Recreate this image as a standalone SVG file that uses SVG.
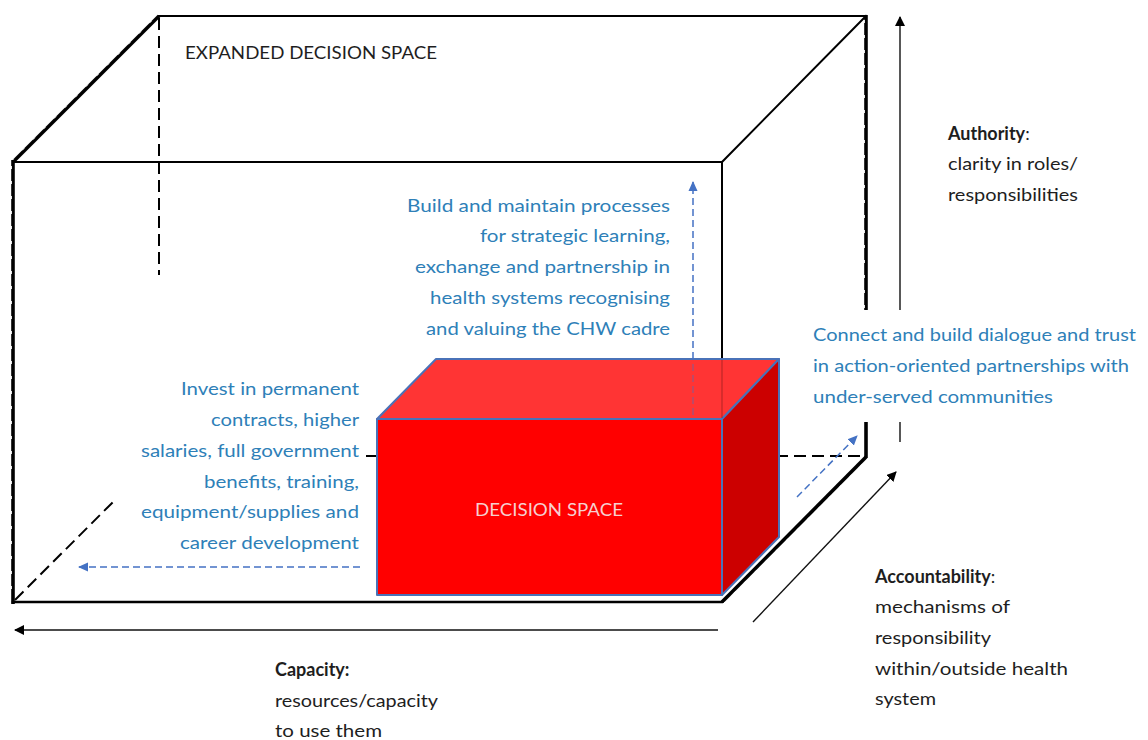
<svg xmlns="http://www.w3.org/2000/svg" width="1148" height="740" viewBox="0 0 1148 740">
<style>
  .edge { stroke: #000; stroke-width: 2; fill: none; stroke-linecap: square; }
  .thick { stroke: #000; stroke-width: 3.6; fill: none; }
  .notch { stroke: #fff; stroke-width: 1; fill: none; stroke-dasharray: 3 12; }
  .bdash { stroke: #000; stroke-width: 2; fill: none; stroke-dasharray: 12 6; }
  .axis { stroke: #111; stroke-width: 1.4; fill: none; }
  .blue { stroke: #4472C4; stroke-width: 1.5; fill: none; stroke-dasharray: 7 4; }
  .redline { stroke: #4A72B8; stroke-width: 2; stroke-linejoin: round; }
  .bt { font-family: Lato, "Open Sans", "Liberation Sans", sans-serif; font-size: 18px; fill: #2E80B8; }
  .lab { font-family: Lato, "Open Sans", "Liberation Sans", sans-serif; font-size: 18px; fill: #1e1e1e; }
  .b { font-weight: bold; }
</style>
<defs>
  <marker id="ah" viewBox="0 0 10 10" refX="9" refY="5" markerWidth="10" markerHeight="10" markerUnits="userSpaceOnUse" orient="auto">
    <path d="M0,0 L10,5 L0,10 Z" fill="#000"/>
  </marker>
  <marker id="bh" viewBox="0 0 10 10" refX="9" refY="5" markerWidth="10" markerHeight="10" markerUnits="userSpaceOnUse" orient="auto">
    <path d="M0,0.5 L10,5 L0,9.5 Z" fill="#4472C4"/>
  </marker>
</defs>

<g id="expanded-space">
  <line class="edge" x1="159" y1="16" x2="866" y2="16"/>
  <line class="edge" x1="13" y1="162" x2="722" y2="162"/>
  <line class="edge" x1="722" y1="162" x2="866" y2="16"/>
  <line class="edge" x1="722" y1="162" x2="722" y2="360"/>
  <line class="edge" x1="13" y1="602" x2="722" y2="602" style="stroke-width:2.6"/>
  <line class="thick" x1="13" y1="162" x2="159" y2="16"/>
  <line class="notch" x1="11.5" y1="161" x2="157.5" y2="15"/>
  <line class="thick" x1="13" y1="160" x2="13" y2="604"/>
  <line class="notch" x1="11.4" y1="166" x2="11.4" y2="600"/>
  <line class="thick" x1="722" y1="602" x2="866" y2="457"/>
  <line class="notch" x1="723" y1="604" x2="867.5" y2="459"/>
  <line class="thick" x1="866" y1="15" x2="866" y2="310"/>
  <line class="thick" x1="866" y1="422" x2="866" y2="458"/>
  <line class="notch" x1="864.4" y1="20" x2="864.4" y2="308"/>
  <line class="bdash" x1="159" y1="18" x2="159" y2="275"/>
  <line class="bdash" x1="15" y1="600" x2="114" y2="501"/>
  <line class="bdash" x1="366" y1="456" x2="377" y2="456"/>
  <line class="bdash" x1="780" y1="456" x2="864" y2="456" style="stroke-dashoffset:4"/>
  <text class="lab" x="185" y="59" font-size="17" textLength="252" lengthAdjust="spacingAndGlyphs">EXPANDED DECISION SPACE</text>
</g>

<g id="decision-space">
  <rect x="377" y="419" width="345" height="176" fill="#FF0000" class="redline"/>
  <polygon points="377,419 436,359 779,359 722,419" fill="#FF3434" class="redline"/>
  <polygon points="722,419 779,359 779,537 722,595" fill="#CC0000" class="redline"/>
  <line x1="722" y1="360" x2="722" y2="418" stroke="#000" stroke-width="1.2" opacity="0.25"/>
  <text x="475" y="516" font-family="Lato, 'Open Sans', 'Liberation Sans', sans-serif" font-size="17" fill="#F6D0D0" textLength="148" lengthAdjust="spacingAndGlyphs">DECISION SPACE</text>
</g>

<g id="connectors">
  <line class="axis" x1="900" y1="442" x2="900" y2="422"/>
  <line class="axis" x1="900" y1="310" x2="900" y2="17" marker-end="url(#ah)"/>
  <line class="axis" x1="718" y1="630" x2="15" y2="630" marker-end="url(#ah)"/>
  <line class="axis" x1="753" y1="622" x2="896" y2="472" marker-end="url(#ah)"/>
  <line class="blue" x1="693" y1="415" x2="693" y2="359" opacity="0.45"/>
  <line class="blue" x1="693" y1="359" x2="693" y2="182" marker-end="url(#bh)"/>
  <line class="blue" x1="360" y1="567" x2="79" y2="567" marker-end="url(#bh)"/>
  <line class="blue" x1="797" y1="497" x2="857" y2="436" marker-end="url(#bh)"/>
</g>

<g id="text-learning">
  <text class="bt" x="407" y="212" textLength="263" lengthAdjust="spacingAndGlyphs">Build and maintain processes</text>
  <text class="bt" x="480" y="242" textLength="190" lengthAdjust="spacingAndGlyphs">for strategic learning,</text>
  <text class="bt" x="415" y="273" textLength="255" lengthAdjust="spacingAndGlyphs">exchange and partnership in</text>
  <text class="bt" x="430" y="304" textLength="240" lengthAdjust="spacingAndGlyphs">health systems recognising</text>
  <text class="bt" x="426" y="335" textLength="244" lengthAdjust="spacingAndGlyphs">and valuing the CHW cadre</text>
</g>

<g id="text-invest">
  <text class="bt" x="181" y="395" textLength="178" lengthAdjust="spacingAndGlyphs">Invest in permanent</text>
  <text class="bt" x="211" y="426" textLength="148" lengthAdjust="spacingAndGlyphs">contracts, higher</text>
  <text class="bt" x="141" y="457" textLength="218" lengthAdjust="spacingAndGlyphs">salaries, full government</text>
  <text class="bt" x="204" y="488" textLength="155" lengthAdjust="spacingAndGlyphs">benefits, training,</text>
  <text class="bt" x="141" y="518" textLength="218" lengthAdjust="spacingAndGlyphs">equipment/supplies  and</text>
  <text class="bt" x="180" y="549" textLength="179" lengthAdjust="spacingAndGlyphs">career development</text>
</g>

<g id="text-connect">
  <text class="bt" x="813" y="341" textLength="323" lengthAdjust="spacingAndGlyphs">Connect and build dialogue and trust</text>
  <text class="bt" x="813" y="372" textLength="316" lengthAdjust="spacingAndGlyphs">in action-oriented partnerships  with</text>
  <text class="bt" x="813" y="403" textLength="240" lengthAdjust="spacingAndGlyphs">under-served  communities</text>
</g>

<g id="label-authority">
  <text class="lab" x="948" y="140"><tspan class="b">Authority</tspan>:</text>
  <text class="lab" x="948" y="170" textLength="130" lengthAdjust="spacingAndGlyphs">clarity in roles/</text>
  <text class="lab" x="948" y="201" textLength="130" lengthAdjust="spacingAndGlyphs">responsibilities</text>
</g>

<g id="label-accountability">
  <text class="lab" x="875" y="583"><tspan class="b">Accountability</tspan>:</text>
  <text class="lab" x="875" y="613" textLength="135" lengthAdjust="spacingAndGlyphs">mechanisms of</text>
  <text class="lab" x="875" y="644" textLength="116" lengthAdjust="spacingAndGlyphs">responsibility</text>
  <text class="lab" x="875" y="675" textLength="193" lengthAdjust="spacingAndGlyphs">within/outside  health</text>
  <text class="lab" x="875" y="705" textLength="61" lengthAdjust="spacingAndGlyphs">system</text>
</g>

<g id="label-capacity">
  <text class="lab b" x="275" y="676">Capacity:</text>
  <text class="lab" x="275" y="707" textLength="163" lengthAdjust="spacingAndGlyphs">resources/capacity</text>
  <text class="lab" x="275" y="737" textLength="107" lengthAdjust="spacingAndGlyphs">to use them</text>
</g>
</svg>
